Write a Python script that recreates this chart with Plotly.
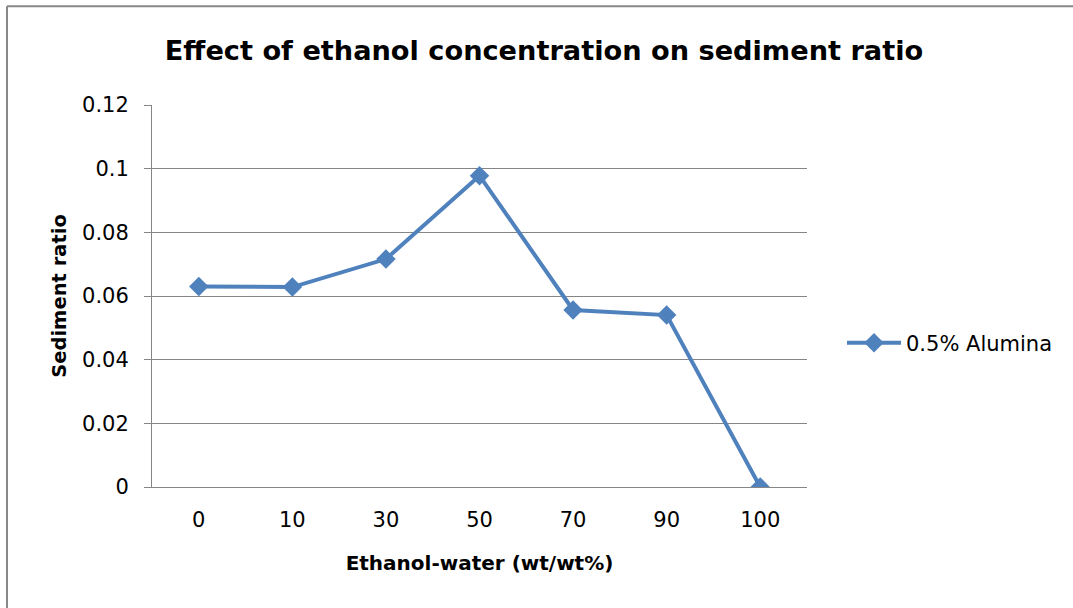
import plotly.graph_objects as go

categories = ["0", "10", "30", "50", "70", "90", "100"]
alumina_05 = [0.063, 0.0628, 0.0716, 0.0978, 0.0556, 0.054, 0.0]
y_ticks = [0, 0.02, 0.04, 0.06, 0.08, 0.1, 0.12]
y_tick_labels = ["0", "0.02", "0.04", "0.06", "0.08", "0.1", "0.12"]

FONT = "DejaVu Sans"
BLUE = "#4F81BD"
GRID = "#868686"

W, H = 1073, 608
# target plot area: x 152-807, y 104.5-487
L, R, T, B = 152, W - 807, 104.5, H - 487
pw, ph = W - L - R, H - T - B

def px(sx):
    return (sx - L) / pw

def py(sy):
    return (H - B - sy) / ph

fig = go.Figure()
fig.add_trace(go.Scatter(
    x=categories, y=alumina_05, mode="lines+markers", name="0.5% Alumina",
    line=dict(color=BLUE, width=4),
    marker=dict(symbol="diamond", size=15, color=BLUE),
))

fig.update_layout(
    width=W, height=H,
    margin=dict(l=L, r=R, t=T, b=B),
    paper_bgcolor="white", plot_bgcolor="white",
    font=dict(family=FONT, color="black"),
    title=dict(text="<b>Effect of ethanol concentration on sediment ratio</b>",
               x=544 / W, xanchor="center", y=1 - 50 / H, yanchor="middle",
               font=dict(size=27.2, family=FONT, color="black")),
    xaxis=dict(type="category", showgrid=False, showline=True, linecolor=GRID, linewidth=1,
               ticks="", tickfont=dict(size=21), ticklabelstandoff=14,
               title=dict(text="<b>Ethanol-water (wt/wt%)</b>", font=dict(size=20), standoff=24),
               range=[-0.5, 6.5]),
    yaxis=dict(range=[0, 0.12], tickvals=y_ticks, ticktext=y_tick_labels,
               showgrid=True, gridcolor=GRID, gridwidth=1,
               showline=True, linecolor=GRID, linewidth=1,
               ticks="outside", ticklen=7, tickcolor=GRID,
               tickfont=dict(size=21), ticklabelstandoff=11, zeroline=False,
               title=dict(text="<b>Sediment ratio</b>", font=dict(size=19.5), standoff=10)),
    legend=dict(x=px(842), y=py(343), xanchor="left", yanchor="middle",
                font=dict(size=21), bgcolor="rgba(0,0,0,0)", itemwidth=54),
    showlegend=True,
)

fig.add_shape(type="line", xref="paper", yref="paper",
              x0=px(7), x1=px(1100), y0=py(5.5), y1=py(5.5),
              line=dict(color="#888888", width=2))
fig.add_shape(type="line", xref="paper", yref="paper",
              x0=px(7), x1=px(7), y0=py(5.5), y1=py(640),
              line=dict(color="#888888", width=2))

fig.write_html("out.html", post_script="document.body.style.margin='0';",
               config={"displayModeBar": False})
